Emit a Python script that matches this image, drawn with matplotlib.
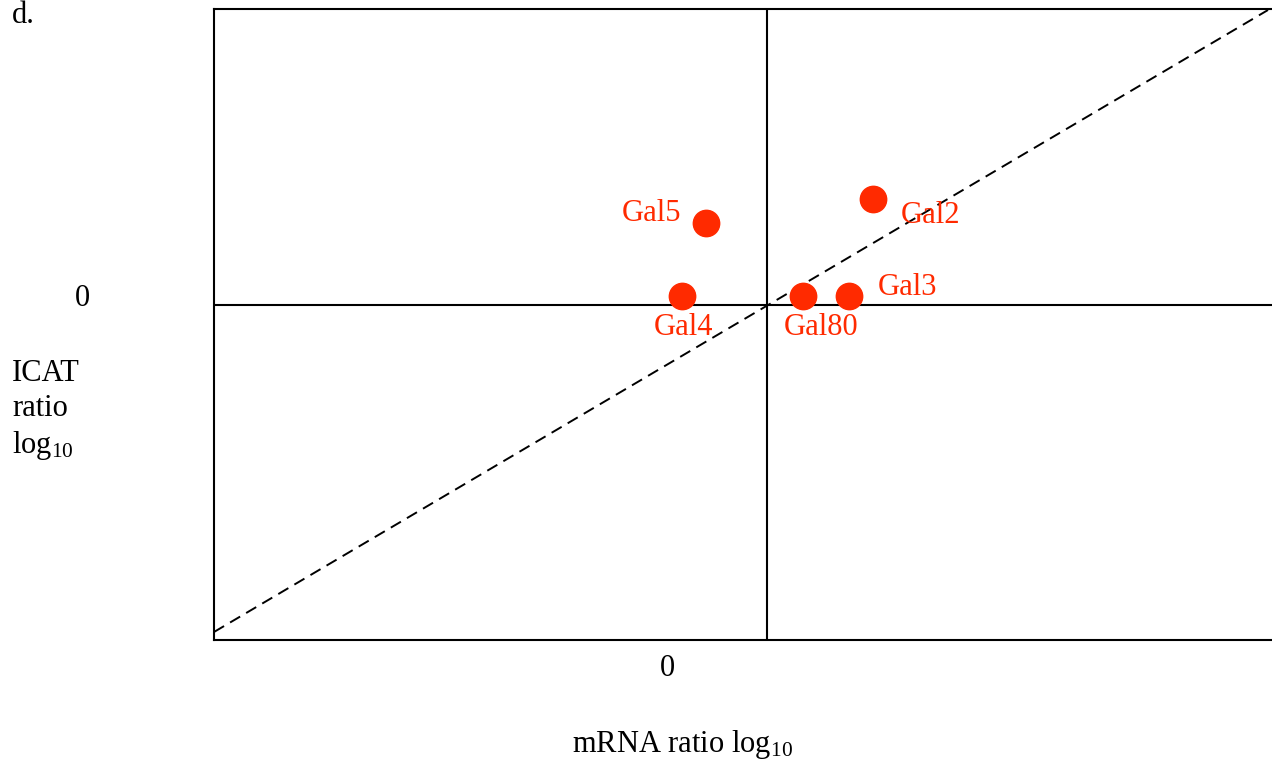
import matplotlib
matplotlib.use("Agg")
import matplotlib.pyplot as plt

plt.rcParams['font.family'] = ['Liberation Serif', 'DejaVu Serif']
plt.rcParams['mathtext.fontset'] = 'custom'
plt.rcParams['mathtext.rm'] = 'Liberation Serif'
plt.rcParams['mathtext.it'] = 'Liberation Serif:italic'

# Data (arbitrary log10 units, origin at the crossing lines)
genes = ["Gal5", "Gal2", "Gal4", "Gal80", "Gal3"]
mrna_ratio = [-0.61, 1.06, -0.85, 0.36, 0.82]
icat_ratio = [0.82, 1.06, 0.09, 0.09, 0.09]
diag_x = [-5.53, 5.01]
diag_y = [-3.27, 2.95]

red = '#ff2a00'
W, H = 1272, 759
fig = plt.figure(figsize=(W / 100, H / 100), dpi=100)
ax = fig.add_axes([214 / W, 1 - 640 / H, 1058 / W, 631 / H])
ax.set_xlim(-5.53, 5.05)
ax.set_ylim(-3.35, 2.96)
for s in ['left', 'bottom', 'top']:
    ax.spines[s].set_linewidth(1.5)
ax.spines['right'].set_visible(False)
ax.set_xticks([])
ax.set_yticks([])

ax.axvline(0, color='black', lw=1.5)
ax.axhline(0, color='black', lw=1.5)
ln, = ax.plot(diag_x, diag_y, color='black', lw=1.4, ls='--')
ln.set_dashes((6, 3.6))

ax.plot(mrna_ratio, icat_ratio, 'o', color=red, markersize=19, zorder=5)

# label offsets in points (position only)
offsets = {
    "Gal5": (-18, 7, 'right', 'center'),
    "Gal2": (20, -12, 'left', 'center'),
    "Gal4": (1, -23, 'center', 'center'),
    "Gal80": (13, -23, 'center', 'center'),
    "Gal3": (21, 6, 'left', 'center'),
}
for g, x, y in zip(genes, mrna_ratio, icat_ratio):
    dx, dy, ha, va = offsets[g]
    ax.annotate(g, (x, y), xytext=(dx, dy), textcoords='offset points',
                ha=ha, va=va, color=red, fontsize=22)

fig.text(667 / W, 1 - 668 / H, "0", ha='center', va='center', fontsize=22)
fig.text(82 / W, 1 - 298 / H, "0", ha='center', va='center', fontsize=22)
fig.text(12 / W, 1 - 359 / H, "ICAT\nratio\nlog$_{\\mathregular{10}}$", ha='left', va='top',
         fontsize=22, linespacing=1.25)
fig.text(683 / W, 1 - 752 / H, "mRNA ratio log$_{\\mathregular{10}}$", ha='center', va='baseline',
         fontsize=22)
fig.text(12 / W, 1 - 1 / H, "d.", ha='left', va='top', fontsize=22)

fig.savefig("out.png", dpi=100)
